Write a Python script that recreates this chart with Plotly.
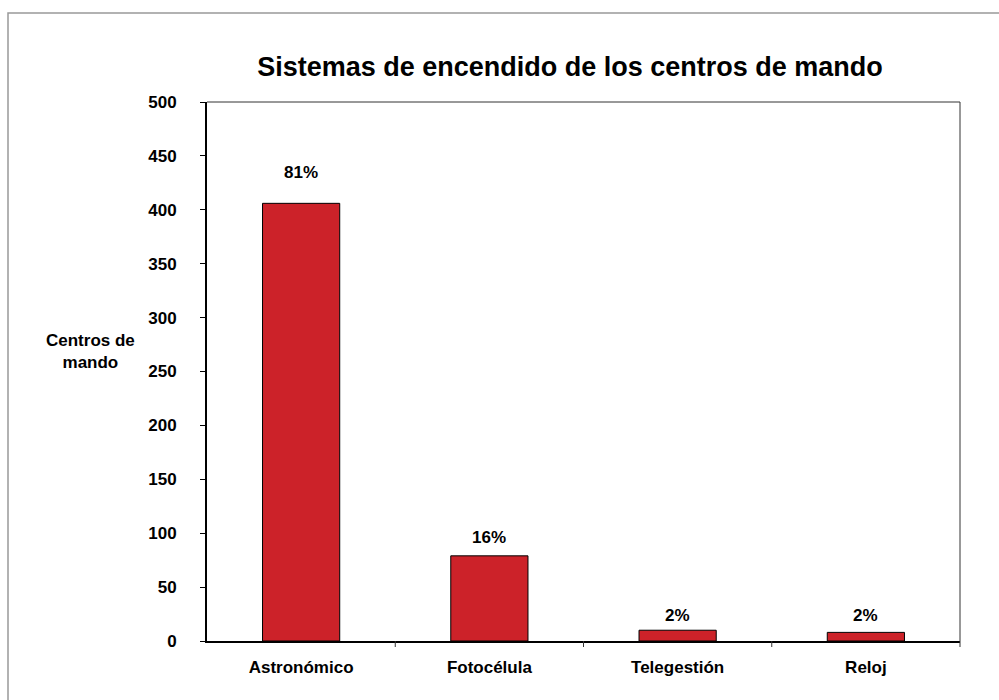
import plotly.graph_objects as go

categories = ["Astronómico", "Fotocélula", "Telegestión", "Reloj"]
values = [406, 79, 10, 8]
labels = ["81%", "16%", "2%", "2%"]
y_ticks = [0, 50, 100, 150, 200, 250, 300, 350, 400, 450, 500]
label_shift = [31, 18, 15, 17]

L, R, T, B = 207, 39, 102, 59
W, H = 999, 700
pw = W - L - R
ph = H - T - B
FONT = "Liberation Sans, Arial"

fig = go.Figure()
fig.add_trace(go.Bar(
    x=categories, y=values,
    marker=dict(color="#CC2229", line=dict(color="black", width=1)),
    width=0.41,
))
for c, v, t, s in zip(categories, values, labels, label_shift):
    fig.add_annotation(x=c, y=v, text=f"<b>{t}</b>", showarrow=False,
                       yshift=s, yanchor="middle", xanchor="center",
                       font=dict(family=FONT, size=17, color="black"))

fig.update_layout(
    width=W, height=H,
    margin=dict(l=L, r=R, t=T, b=B),
    paper_bgcolor="white", plot_bgcolor="white",
    font=dict(family=FONT, color="black"),
    title=dict(text="<b>Sistemas de encendido de los centros de mando</b>",
               x=570 / W, xanchor="center", y=1 - 67 / H, yanchor="middle",
               font=dict(size=27, color="black")),
    showlegend=False,
)
fig.update_xaxes(
    type="category", showline=True, linecolor="black", linewidth=2,
    ticks="", showgrid=False,
    tickvals=categories, ticktext=[f"<b>{c}</b>" for c in categories],
    tickfont=dict(size=17, color="black"), ticklabelstandoff=10,
)
fig.update_yaxes(
    range=[0, 500], tickvals=y_ticks, ticktext=[f"<b>{v}</b>" for v in y_ticks],
    showline=True, linecolor="black", linewidth=2, ticks="outside", ticklen=5,
    tickcolor="black", tickwidth=1, showgrid=False, zeroline=False,
    tickfont=dict(size=17, color="black"), ticklabelstandoff=20,
)

# top and right frame of the plot area
fig.add_shape(type="line", xref="paper", yref="paper", x0=0, x1=1, y0=1, y1=1,
              line=dict(color="#333333", width=1))
fig.add_shape(type="line", xref="paper", yref="paper", x0=1, x1=1, y0=0, y1=1,
              line=dict(color="#333333", width=1))
# category boundary ticks on x axis
for i in range(1, len(categories) + 1):
    xp = i / len(categories)
    fig.add_shape(type="line", xref="paper", yref="paper", x0=xp, x1=xp,
                  y0=0, y1=-6 / ph, line=dict(color="#333333", width=1))
# outer chart border
fig.add_shape(type="rect", xref="paper", yref="paper",
              x0=(8 - L) / pw, x1=(W + 20 - L) / pw,
              y0=-(B + 20) / ph, y1=(H - B - 13) / ph,
              line=dict(color="#999999", width=1.5), layer="below")

fig.add_annotation(text="<b>Centros de<br>mando</b>", xref="paper", yref="paper",
                   x=(90 - L) / pw, y=(H - B - 351) / ph, showarrow=False,
                   xanchor="center", yanchor="middle",
                   font=dict(size=17, color="black"), align="center")

fig.write_html("out.html", config={"displayModeBar": False},
               post_script="document.body.style.margin='0';document.body.style.overflow='hidden';")
